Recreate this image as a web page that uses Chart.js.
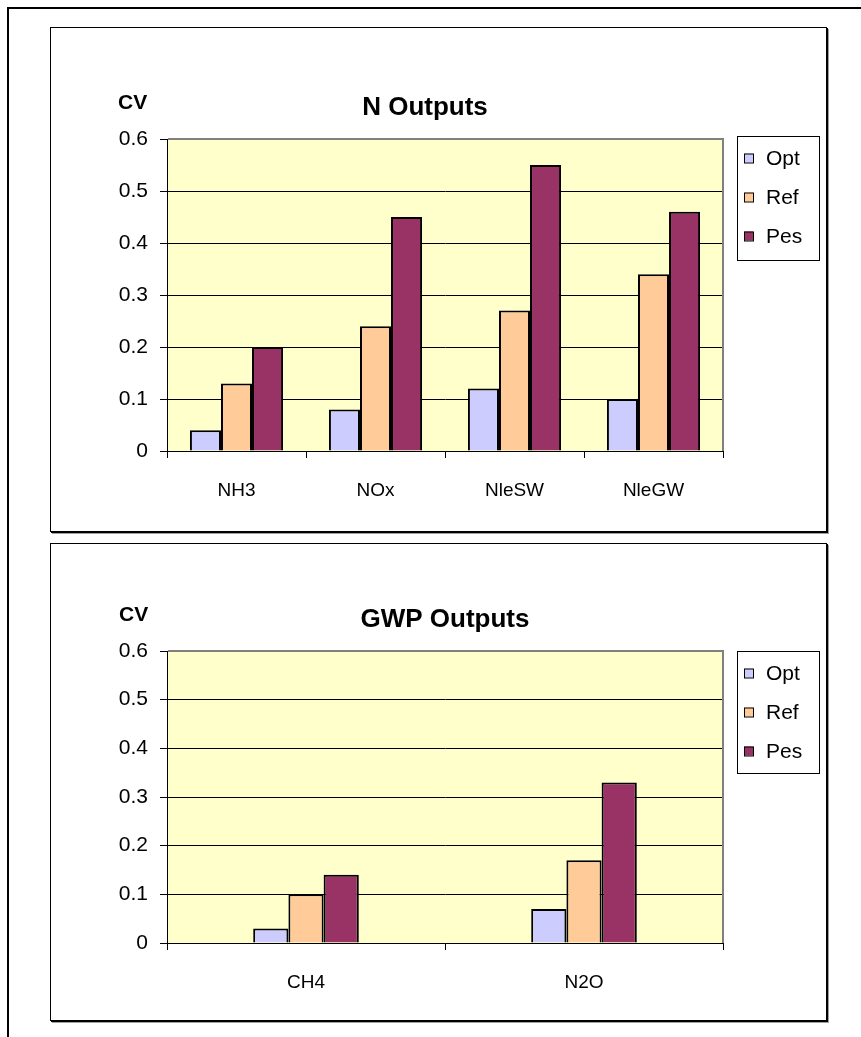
<!DOCTYPE html>
<html>
<head>
<meta charset="utf-8">
<title>N and GWP Outputs</title>
<script src="https://cdn.jsdelivr.net/npm/chart.js@4.4.1/dist/chart.umd.min.js"></script>
<style>
  html, body { margin: 0; padding: 0; background: #fff; }
  body { width: 861px; height: 1037px; position: relative; overflow: hidden; }
  #frame { position: absolute; left: 7px; top: 7px; width: 880px; height: 1060px;
           border-top: 2px solid #000; border-left: 2px solid #000; }
  .box { position: absolute; left: 50px; width: 775px; border: 1px solid #000;
         box-shadow: 1px 1px 0 #000, 2px 2px 0 #a0a0a0; background: #fff; }
  #box1 { top: 27px; height: 503px; }
  #box2 { top: 543px; height: 476px; }
  .box canvas { position: absolute; left: 0; top: 0; }
</style>
</head>
<body>
<div id="frame"></div>
<div class="box" id="box1"><canvas id="nChart" width="775" height="503"></canvas></div>
<div class="box" id="box2"><canvas id="gwpChart" width="775" height="476"></canvas></div>

<script>
// ---- data ----
const seriesNames = ['Opt', 'Ref', 'Pes'];
const seriesColors = ['#CCCCFF', '#FFCC99', '#993366'];

const nCategories = ['NH3', 'NOx', 'NleSW', 'NleGW'];
const nOpt = [0.04, 0.08, 0.12, 0.10];
const nRef = [0.13, 0.24, 0.27, 0.34];
const nPes = [0.20, 0.45, 0.55, 0.46];

const gwpCategories = ['CH4', 'N2O'];
const gwpOpt = [0.03, 0.07];
const gwpRef = [0.10, 0.17];
const gwpPes = [0.14, 0.33];

const yMin = 0, yMax = 0.6, yStep = 0.1;
const yAxisTitle = 'CV';

// ---- drawing ----
const FONT = '"Liberation Sans", Arial, sans-serif';

// plot background, grey plot frame, title, axis caption and legend box
const decor = {
  id: 'decor',
  beforeDraw(chart) {
    const { ctx, chartArea: a } = chart;
    ctx.save();
    ctx.fillStyle = '#FFFFCC';
    ctx.fillRect(a.left, a.top, a.right - a.left, a.bottom - a.top);
    ctx.restore();
  },
  afterDraw(chart, args, o) {
    const { ctx, chartArea: a } = chart;
    ctx.save();
    ctx.strokeStyle = '#808080';
    ctx.lineWidth = 2;
    ctx.beginPath();
    ctx.moveTo(a.left + 1, a.top);
    ctx.lineTo(a.right, a.top);
    ctx.lineTo(a.right, a.bottom);
    ctx.stroke();

    ctx.fillStyle = '#000';
    ctx.textBaseline = 'middle';
    ctx.textAlign = 'center';
    ctx.font = 'bold 26px ' + FONT;
    ctx.fillText(o.title, o.titleX, o.titleY);

    ctx.textAlign = 'left';
    ctx.font = 'bold 21px ' + FONT;
    ctx.fillText(yAxisTitle, o.capX, o.capY);

    const L = o.legend;
    ctx.fillStyle = '#fff';
    ctx.fillRect(L.x, L.y, L.w, L.h);
    ctx.strokeStyle = '#000';
    ctx.lineWidth = 1;
    ctx.strokeRect(L.x + 0.5, L.y + 0.5, L.w, L.h);
    ctx.font = '21px ' + FONT;
    chart.data.datasets.forEach((ds, i) => {
      const cy = L.y + L.first + i * L.step;
      ctx.fillStyle = ds.backgroundColor;
      ctx.fillRect(L.x + 7, cy - 4.5, 9, 9);
      ctx.strokeStyle = '#000';
      ctx.strokeRect(L.x + 7.5, cy - 4, 9, 9);
      ctx.fillStyle = '#000';
      ctx.fillText(ds.label, L.x + 29, cy + 1);
    });
    ctx.restore();
  }
};

function makeChart(id, categories, values, opts) {
  const datasets = values.map((v, i) => ({
    label: seriesNames[i],
    data: v,
    backgroundColor: seriesColors[i],
    borderColor: '#000',
    borderWidth: 2,
    borderSkipped: 'bottom',
    categoryPercentage: opts.catPct,
    barPercentage: 1.0
  }));
  return new Chart(document.getElementById(id), {
    type: 'bar',
    data: { labels: categories, datasets },
    plugins: [decor],
    options: {
      responsive: false,
      animation: false,
      devicePixelRatio: 1,
      layout: { padding: { top: opts.top, right: 103, left: 0, bottom: 0 } },
      plugins: {
        legend: { display: false },
        tooltip: { enabled: false },
        title: { display: false },
        decor: opts.decor
      },
      scales: {
        x: {
          offset: true,
          grid: { offset: true, drawOnChartArea: false, drawTicks: true, tickLength: 7,
                  color: '#000', lineWidth: 1 },
          border: { display: true, color: '#000', width: 1 },
          ticks: { color: '#000', font: { family: FONT, size: 19 }, padding: 21,
                   maxRotation: 0, autoSkip: false },
          afterFit(s) { s.height = opts.xh; }
        },
        y: {
          min: yMin, max: yMax,
          grid: { color: '#000', lineWidth: 1, tickLength: 7 },
          border: { display: true, color: '#000', width: 1 },
          ticks: {
            stepSize: yStep, color: '#000', font: { family: FONT, size: 21 }, padding: 12,
            callback: v => String(Number(v.toFixed(1)))
          },
          afterFit(s) { s.width = 116; }
        }
      }
    }
  });
}

makeChart('nChart', nCategories, [nOpt, nRef, nPes], {
  top: 111, xh: 80, catPct: 0.67,
  decor: {
    title: 'N Outputs', titleX: 374, titleY: 80, capX: 67, capY: 75,
    legend: { x: 686, y: 108, w: 82, h: 124, first: 22, step: 39 }
  }
});

makeChart('gwpChart', gwpCategories, [gwpOpt, gwpRef, gwpPes], {
  top: 107, xh: 77, catPct: 0.38,
  decor: {
    title: 'GWP Outputs', titleX: 394, titleY: 76, capX: 68, capY: 71,
    legend: { x: 686, y: 107, w: 82, h: 122, first: 22, step: 39 }
  }
});
</script>
</body>
</html>
